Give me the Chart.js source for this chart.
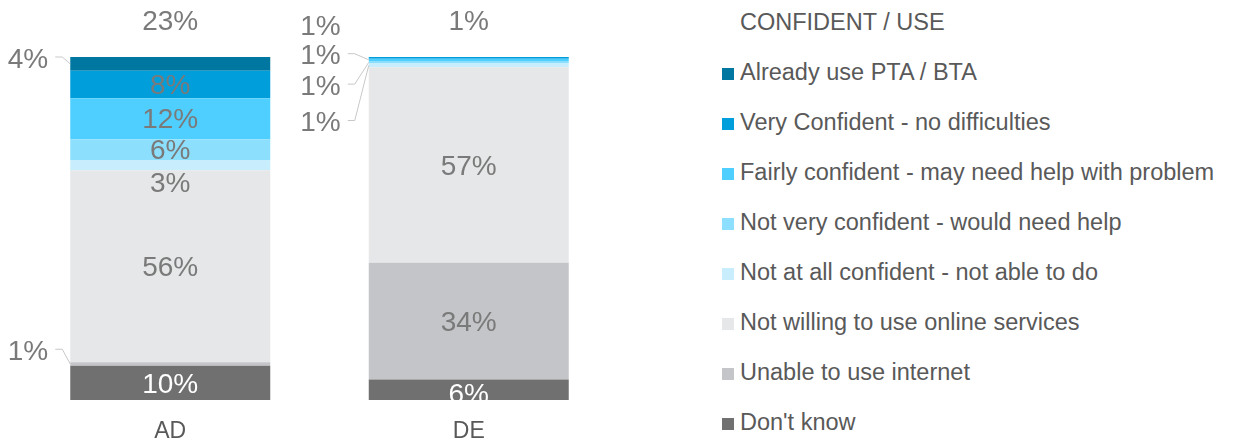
<!DOCTYPE html>
<html lang="en">
<head>
  <meta charset="UTF-8" />
  <title>Confident / Use</title>
  <script src="https://cdn.jsdelivr.net/npm/chart.js"></script>
  <style>
    body { margin: 0; background: #fff; font-family: "Liberation Sans", Arial, sans-serif; }
    #wrap { position: relative; width: 1258px; height: 443px; }
    #chartBox { position: absolute; left: 0; top: 0; width: 640px; height: 443px; }
    #legend { position: absolute; left: 722px; top: 0; color: #595959; font-size: 23.5px; }
    #legend .title { position: absolute; left: 18px; top: 8px; white-space: nowrap; height: 28px; line-height: 28px; }
    #legend .item { position: absolute; left: 0; white-space: nowrap; height: 28px; line-height: 28px; }
    #legend .box { display: inline-block; width: 12px; height: 12px; margin-right: 6px; vertical-align: 0px; }
  </style>
</head>
<body>
  <div id="wrap">
    <div id="chartBox"><canvas id="chart"></canvas></div>
    <div id="legend"></div>
  </div>

  <script>
    const categories = ['AD', 'DE'];
    const seriesNames = [
      'Already use PTA / BTA',
      'Very Confident - no difficulties',
      'Fairly confident - may need help with problem',
      'Not very confident - would need help',
      'Not at all confident - not able to do',
      'Not willing to use online services',
      'Unable to use internet',
      "Don't know"
    ];
    const seriesColors = ['#0077a1', '#009edb', '#4fcfff', '#8cdffd', '#c8eefd', '#e6e7e8', '#c4c5c8', '#707070'];

    const alreadyUse = [4, 0];
    const veryConfident = [8, 0.5];
    const fairlyConfident = [12, 0.7];
    const notVeryConfident = [6, 0.7];
    const notAtAllConfident = [3, 1.1];
    const notWilling = [56, 57];
    const unableInternet = [1, 34];
    const dontKnow = [10, 6];
    const confidentTotals = [23, 1];

    const seriesValues = [alreadyUse, veryConfident, fairlyConfident, notVeryConfident,
      notAtAllConfident, notWilling, unableInternet, dontKnow];

    // label tweaks: key "series|category"
    const labelTweaks = {
      '0|0': { side: true, dx: -22, dy: 3 },
      '6|0': { side: true, dx: -22, dy: -10 },
      '4|0': { shift: 17 },
      '7|1': { shift: 4 },
      '1|1': { side: true, dx: -28, dy: -30, noLine: true },
      '2|1': { side: true, dx: -28, dy: -2 },
      '3|1': { side: true, dx: -28, dy: 26 },
      '4|1': { side: true, dx: -28, dy: 60 }
    };

    // stack from the bottom: Don't know first
    const datasets = seriesNames.map((name, i) => ({
      label: name,
      data: seriesValues[i],
      backgroundColor: seriesColors[i],
      borderWidth: 0,
      sIndex: i
    })).reverse();

    const FONT = '"Liberation Sans", Arial, sans-serif';

    const labelPlugin = {
      id: 'labels',
      afterDatasetsDraw(chart) {
        const ctx = chart.ctx;
        const area = chart.chartArea;
        ctx.save();
        ctx.font = '28px ' + FONT;
        ctx.textBaseline = 'middle';
        chart.data.datasets.forEach((ds, di) => {
          const meta = chart.getDatasetMeta(di);
          meta.data.forEach((bar, ci) => {
            const v = ds.data[ci];
            if (!v) return;
            const text = Math.round(v) + '%';
            const tw = labelTweaks[ds.sIndex + '|' + ci] || {};
            const mid = (bar.y + bar.base) / 2;
            if (tw.side) {
              const left = bar.x - bar.width / 2;
              const tx = left + tw.dx;
              const ty = bar.y + tw.dy;
              ctx.fillStyle = '#7a7a7a';
              ctx.textAlign = 'right';
              ctx.fillText(text, tx, ty);
              if (!tw.noLine) {
                ctx.strokeStyle = '#c8c8c8';
                ctx.lineWidth = 1;
                ctx.beginPath();
                ctx.moveTo(tx + 7, ty - 3);
                ctx.lineTo(tx + 14, ty - 3);
                ctx.lineTo(left, mid);
                ctx.stroke();
              }
            } else {
              ctx.save();
              ctx.beginPath();
              ctx.rect(area.left, area.top, area.right - area.left, area.bottom - area.top);
              ctx.clip();
              ctx.fillStyle = ds.sIndex === 7 ? '#ffffff' : '#7a7a7a';
              ctx.textAlign = 'center';
              ctx.fillText(text, bar.x, mid + 2 + (tw.shift || 0));
              ctx.restore();
            }
          });
        });
        // totals above bars
        const xs = chart.scales.x;
        ctx.fillStyle = '#7a7a7a';
        ctx.textAlign = 'center';
        confidentTotals.forEach((t, ci) => {
          ctx.fillText(t + '%', xs.getPixelForValue(ci), 22);
        });
        ctx.restore();
      }
    };

    new Chart(document.getElementById('chart'), {
      type: 'bar',
      data: { labels: categories, datasets: datasets },
      options: {
        responsive: true,
        maintainAspectRatio: false,
        animation: false,
        layout: { padding: { top: 57, left: 21, right: 22, bottom: 0 } },
        plugins: { legend: { display: false }, tooltip: { enabled: false } },
        datasets: { bar: { barPercentage: 0.67, categoryPercentage: 1 } },
        scales: {
          x: {
            stacked: true,
            grid: { display: false },
            border: { display: false },
            ticks: { color: '#595959', font: { family: FONT, size: 23 }, padding: 10 },
            afterFit(scale) { scale.height = 43; }
          },
          y: {
            stacked: true,
            display: false,
            min: 0,
            max: 100
          }
        }
      },
      plugins: [labelPlugin]
    });

    // legend built from the same arrays
    const legend = document.getElementById('legend');
    legend.innerHTML = '<div class="title">CONFIDENT / USE</div>' +
      seriesNames.map((name, i) =>
        `<div class="item" style="top:${58 + i * 50}px"><span class="box" style="background:${seriesColors[i]}"></span>${name}</div>`
      ).join('');
  </script>
</body>
</html>
